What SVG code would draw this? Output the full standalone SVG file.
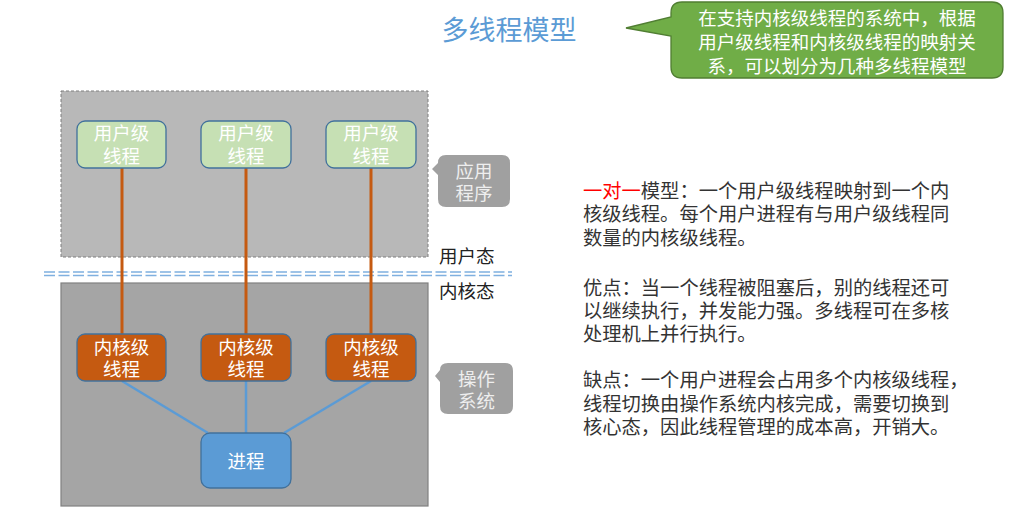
<svg xmlns="http://www.w3.org/2000/svg" width="1032" height="514" viewBox="0 0 1032 514">
<style>
text{font-family:"Noto Sans CJK SC","Noto Sans",sans-serif}
.bt{font-size:18.5px;fill:#fff;text-anchor:middle}
.ut{fill:#c6e0b4;stroke:#41719c;stroke-width:1.3}
.kt{fill:#c55a11;stroke:#41719c;stroke-width:1.3}
.pr{fill:#5b9bd5;stroke:#41719c;stroke-width:1.3}
.ol{stroke:#c55a11;stroke-width:3;fill:none}
.bl{stroke:#5b9bd5;stroke-width:2.5;fill:none}
.dl{stroke:#7fb0e0;stroke-width:1.6;stroke-dasharray:11 3.5;fill:none}
.rt{font-size:19.3px;fill:#333}
.lab{font-size:18.5px;fill:#222}
.ct{font-size:18.5px;fill:#eee;text-anchor:middle}
.gt{font-size:18.5px;fill:#fff;text-anchor:middle}
</style>
<rect width="1032" height="514" fill="#fff"/>
<text x="509" y="40" font-size="27" fill="#5b9bd5" text-anchor="middle">多线程模型</text>
<g id="note">
<path d="M682,2 H992 Q1003,2 1003,13 V67 Q1003,78 992,78 H682 Q671,78 671,67 V36 L626,28 L671,17 V13 Q671,2 682,2 Z" fill="#70ad47" stroke="#507e32" stroke-width="1.3"/>
<text class="gt"><tspan x="837" y="25">在支持内核级线程的系统中，根据</tspan><tspan x="837" y="49">用户级线程和内核级线程的映射关</tspan><tspan x="837" y="73">系，可以划分为几种多线程模型</tspan></text>
</g>
<g id="app-area">
<rect x="61" y="91" width="367" height="166" fill="#b8b8b8" stroke="#7f7f7f" stroke-width="1" stroke-dasharray="3 2"/>
</g>
<g id="os-area">
<rect x="61" y="283" width="367" height="223" fill="#a5a5a5" stroke="#808080" stroke-width="1.2"/>
</g>
<g id="mode-line">
<line class="dl" x1="44" y1="272" x2="512" y2="272"/>
<line class="dl" x1="44" y1="275.5" x2="512" y2="275.5"/>
</g>
<g id="connectors">
<line class="ol" x1="122" y1="168" x2="122" y2="334"/>
<line class="ol" x1="246" y1="168" x2="246" y2="334"/>
<line class="ol" x1="371" y1="168" x2="371" y2="334"/>
<line class="bl" x1="122" y1="381" x2="208" y2="433"/>
<line class="bl" x1="246" y1="381" x2="246" y2="433"/>
<line class="bl" x1="371" y1="381" x2="284" y2="433"/>
</g>
<g id="u1"><rect class="ut" x="77" y="121" width="89" height="47" rx="8"/><text class="bt"><tspan x="121.5" y="140">用户级</tspan><tspan x="121.5" y="163">线程</tspan></text></g>
<g id="u2"><rect class="ut" x="201" y="121" width="90" height="47" rx="8"/><text class="bt"><tspan x="246" y="140">用户级</tspan><tspan x="246" y="163">线程</tspan></text></g>
<g id="u3"><rect class="ut" x="326" y="121" width="90" height="47" rx="8"/><text class="bt"><tspan x="371" y="140">用户级</tspan><tspan x="371" y="163">线程</tspan></text></g>
<g id="k1"><rect class="kt" x="77" y="334" width="89" height="47" rx="8"/><text class="bt"><tspan x="121.5" y="354">内核级</tspan><tspan x="121.5" y="376">线程</tspan></text></g>
<g id="k2"><rect class="kt" x="201" y="334" width="90" height="47" rx="8"/><text class="bt"><tspan x="246" y="354">内核级</tspan><tspan x="246" y="376">线程</tspan></text></g>
<g id="k3"><rect class="kt" x="326" y="334" width="90" height="47" rx="8"/><text class="bt"><tspan x="371" y="354">内核级</tspan><tspan x="371" y="376">线程</tspan></text></g>
<g id="proc"><rect class="pr" x="201" y="433" width="90" height="55" rx="9"/><text class="bt" x="246" y="468">进程</text></g>
<g id="app-callout">
<path d="M446,155 H502 Q510,155 510,163 V199 Q510,207 502,207 H446 Q438,207 438,199 V175 L432,169 L438,163 Q438,155 446,155 Z" fill="#a0a0a0"/>
<text class="ct"><tspan x="474" y="178">应用</tspan><tspan x="474" y="200">程序</tspan></text>
</g>
<g id="os-callout">
<path d="M448,363 H505 Q513,363 513,371 V406 Q513,414 505,414 H448 Q440,414 440,406 V382 L435,376 L440,370 Q440,363 448,363 Z" fill="#a0a0a0"/>
<text class="ct"><tspan x="476.5" y="386">操作</tspan><tspan x="476.5" y="408">系统</tspan></text>
</g>
<text class="lab" x="439" y="263">用户态</text>
<text class="lab" x="439" y="298">内核态</text>
<g id="desc">
<text class="rt"><tspan x="583" y="198"><tspan fill="#ff0000">一对一</tspan>模型：一个用户级线程映射到一个内</tspan><tspan x="583" y="221">核级线程。每个用户进程有与用户级线程同</tspan><tspan x="583" y="245">数量的内核级线程。</tspan></text>
<text class="rt"><tspan x="583" y="295">优点：当一个线程被阻塞后，别的线程还可</tspan><tspan x="583" y="318">以继续执行，并发能力强。多线程可在多核</tspan><tspan x="583" y="341">处理机上并行执行。</tspan></text>
<text class="rt"><tspan x="583" y="387">缺点：一个用户进程会占用多个内核级线程，</tspan><tspan x="583" y="411">线程切换由操作系统内核完成，需要切换到</tspan><tspan x="583" y="434">核心态，因此线程管理的成本高，开销大。</tspan></text>
</g>
</svg>
